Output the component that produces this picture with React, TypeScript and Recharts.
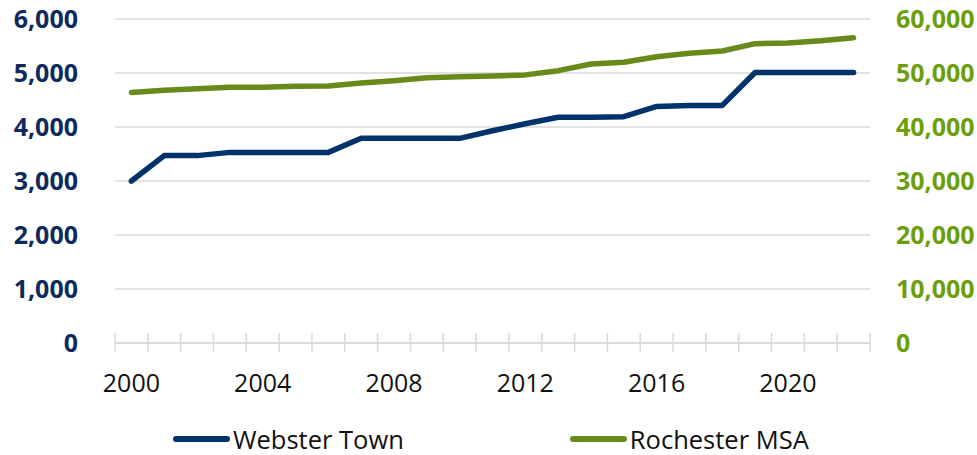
import { LineChart, Line, XAxis, YAxis, CartesianGrid, Legend } from "recharts";

const YEARS = [
  2000, 2001, 2002, 2003, 2004, 2005, 2006, 2007, 2008, 2009, 2010, 2011,
  2012, 2013, 2014, 2015, 2016, 2017, 2018, 2019, 2020, 2021, 2022,
];

const WEBSTER_TOWN = [
  3000, 3470, 3470, 3530, 3530, 3530, 3530, 3790, 3790, 3790, 3790, 3930,
  4060, 4180, 4180, 4190, 4380, 4400, 4400, 5010, 5010, 5010, 5010,
];

const ROCHESTER_MSA = [
  46400, 46800, 47100, 47350, 47350, 47530, 47600, 48150, 48580, 49130, 49320,
  49440, 49650, 50430, 51670, 51980, 53020, 53650, 54070, 55430, 55560, 55980,
  56540,
];

const LEFT_TICKS = [0, 1000, 2000, 3000, 4000, 5000, 6000];
const RIGHT_TICKS = [0, 10000, 20000, 30000, 40000, 50000, 60000];
const LABEL_EVERY = 4;

const NAVY = "#003369";
const NAVY_TEXT = "#0E2A5C";
const GREEN = "#688A1A";
const GREEN_TEXT = "#6B9E0C";
const GRID = "#d9d9d9";
const FONT = "'Open Sans', 'Noto Sans', sans-serif";

const WIDTH = 977;
const HEIGHT = 455;
const LEFT_W = 115;
const RIGHT_W = 107;
const BAND = (WIDTH - LEFT_W - RIGHT_W) / YEARS.length;

const data = YEARS.map((year, i) => ({
  year,
  webster: WEBSTER_TOWN[i],
  rochester: ROCHESTER_MSA[i],
}));

const fmt = (v: number) => v.toLocaleString("en-US");

// tick marks sit between categories, labels only every 4th year
function YearTick(props: any) {
  const { x, y, payload, index } = props;
  const half = payload?.offset || BAND / 2;
  const last = index === YEARS.length - 1;
  return (
    <g>
      <line x1={x - half} x2={x - half} y1={y - 10} y2={y + 9} stroke={GRID} strokeWidth={1.5} />
      {last && (
        <line x1={x + half} x2={x + half} y1={y - 10} y2={y + 9} stroke={GRID} strokeWidth={1.5} />
      )}
      {(payload.value - YEARS[0]) % LABEL_EVERY === 0 && (
        <text x={x} y={y + 49} textAnchor="middle" fill="#111" fontSize={25} fontFamily={FONT}>
          {payload.value}
        </text>
      )}
    </g>
  );
}

function LegendBox() {
  const items = [
    { name: "Webster Town", color: NAVY },
    { name: "Rochester MSA", color: GREEN },
  ];
  return (
    <div
      style={{
        display: "flex",
        paddingLeft: 173,
        paddingTop: 11,
        gap: 166,
        fontFamily: FONT,
        fontSize: 25.5,
        color: "#111",
      }}
    >
      {items.map((it) => (
        <div key={it.name} style={{ display: "flex", alignItems: "center" }}>
          <div style={{ width: 57, height: 6, borderRadius: 3, background: it.color, marginRight: 3 }} />
          <span>{it.name}</span>
        </div>
      ))}
    </div>
  );
}

export default function App() {
  return (
    <div style={{ width: WIDTH, height: HEIGHT, background: "#fff" }}>
      <style>{`body{margin:0}`}</style>
      <LineChart width={WIDTH} height={HEIGHT} data={data} margin={{ top: 19, right: 0, left: 0, bottom: 0 }}>
        <CartesianGrid vertical={false} stroke={GRID} strokeWidth={1.5} yAxisId="left" />
        <XAxis
          dataKey="year"
          scale="band"
          interval={0}
          height={68}
          tickSize={0}
          tickMargin={0}
          tick={<YearTick />}
          axisLine={{ stroke: GRID, strokeWidth: 1.5 }}
          tickLine={false}
        />
        <YAxis
          yAxisId="left"
          domain={[0, 6000]}
          ticks={LEFT_TICKS}
          width={LEFT_W}
          axisLine={false}
          tickLine={false}
          tickSize={0}
          tickMargin={37}
          tickFormatter={fmt}
          tick={{ fill: NAVY_TEXT, fontSize: 25, fontWeight: 700, fontFamily: FONT }}
        />
        <YAxis
          yAxisId="right"
          orientation="right"
          domain={[0, 60000]}
          ticks={RIGHT_TICKS}
          width={RIGHT_W}
          axisLine={false}
          tickLine={false}
          tickSize={0}
          tickMargin={26}
          tickFormatter={fmt}
          tick={{ fill: GREEN_TEXT, fontSize: 25, fontWeight: 700, fontFamily: FONT, textAnchor: "start" }}
        />
        <Legend verticalAlign="bottom" height={44} content={<LegendBox />} />
        <Line
          yAxisId="right"
          dataKey="rochester"
          name="Rochester MSA"
          stroke={GREEN}
          strokeWidth={5.5}
          strokeLinecap="round"
          strokeLinejoin="round"
          dot={false}
          activeDot={false}
          isAnimationActive={false}
        />
        <Line
          yAxisId="left"
          dataKey="webster"
          name="Webster Town"
          stroke={NAVY}
          strokeWidth={5.5}
          strokeLinecap="round"
          strokeLinejoin="round"
          dot={false}
          activeDot={false}
          isAnimationActive={false}
        />
      </LineChart>
    </div>
  );
}
